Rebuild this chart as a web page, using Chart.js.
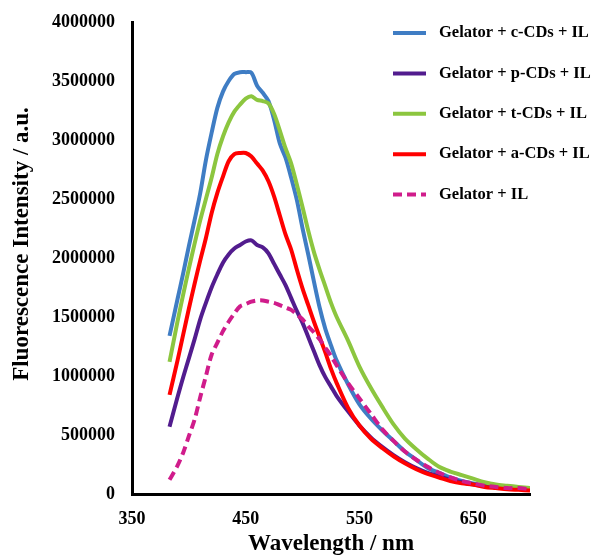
<!DOCTYPE html>
<html>
<head>
<meta charset="utf-8">
<script src="https://cdn.jsdelivr.net/npm/chart.js@4.4.1/dist/chart.umd.min.js"></script>
<style>
html, body { margin: 0; padding: 0; background: #fff; }
#wrap { width: 592px; height: 558px; }
</style>
</head>
<body>
<div id="wrap"><canvas id="graficoCanvas"></canvas></div>
<script>
// dados (comprimento de onda em nm)
const wavelengths = [383, 390, 395, 400, 405, 410, 415, 420, 425, 430, 435, 440, 445, 450, 455, 460, 465, 470, 475, 480,
	485, 490, 495, 500, 505, 510, 515, 520, 525, 530, 540, 550, 560, 570, 580, 590, 600, 610, 620, 630, 640, 650, 660, 670, 680, 690, 700]

const cCDs = [1340000, 1650000, 1870000, 2100000, 2320000, 2550000, 2830000, 3060000, 3270000, 3410000, 3500000, 3560000, 3575000, 3575000, 3570000, 3460000, 3400000, 3330000, 3170000, 2970000,
	2850000, 2680000, 2490000, 2250000, 2030000, 1800000, 1580000, 1400000, 1260000, 1130000, 930000, 760000, 640000, 540000, 450000, 360000, 290000, 220000, 180000, 140000, 110000, 90000, 70000, 60000, 50000, 45000, 40000]

const pCDs = [570000, 820000, 990000, 1150000, 1310000, 1480000, 1620000, 1750000, 1860000, 1960000, 2030000, 2080000, 2110000, 2140000, 2150000, 2110000, 2090000, 2040000, 1950000, 1860000,
	1770000, 1660000, 1550000, 1450000, 1330000, 1210000, 1090000, 990000, 910000, 830000, 700000, 580000, 480000, 400000, 330000, 270000, 220000, 180000, 150000, 120000, 100000, 80000, 70000, 60000, 50000, 45000, 40000]

const tCDs = [1120000, 1460000, 1690000, 1910000, 2120000, 2320000, 2500000, 2680000, 2880000, 3030000, 3150000, 3240000, 3300000, 3350000, 3370000, 3340000, 3330000, 3310000, 3220000, 3080000,
	2930000, 2800000, 2620000, 2430000, 2230000, 2050000, 1900000, 1760000, 1620000, 1500000, 1300000, 1080000, 900000, 740000, 590000, 470000, 380000, 300000, 230000, 190000, 160000, 130000, 100000, 80000, 70000, 60000, 50000]

const aCDs = [840000, 1130000, 1350000, 1570000, 1780000, 1980000, 2170000, 2380000, 2550000, 2690000, 2820000, 2880000, 2890000, 2890000, 2860000, 2800000, 2740000, 2650000, 2520000, 2360000,
	2200000, 2070000, 1900000, 1740000, 1600000, 1460000, 1330000, 1200000, 1060000, 940000, 730000, 580000, 470000, 390000, 320000, 260000, 210000, 170000, 140000, 110000, 90000, 80000, 60000, 50000, 40000, 35000, 30000]

const soIL = [120000, 240000, 350000, 490000, 630000, 820000, 1000000, 1180000, 1280000, 1380000, 1460000, 1530000, 1590000, 1610000, 1630000, 1640000, 1640000, 1630000, 1620000, 1600000,
	1580000, 1560000, 1520000, 1480000, 1420000, 1370000, 1310000, 1240000, 1170000, 1090000, 940000, 810000, 680000, 550000, 450000, 360000, 290000, 230000, 180000, 140000, 110000, 90000, 70000, 60000, 50000, 50000, 40000]

const seriesNames = ['Gelator + c-CDs + IL', 'Gelator + p-CDs + IL', 'Gelator + t-CDs + IL', 'Gelator + a-CDs + IL', 'Gelator + IL']
const seriesColors = ['#3F7DC4', '#521C8E', '#8CC63F', '#FF0000', '#D01C8B']
const xTicks = [350, 450, 550, 650]
const yTitulo = 'Fluorescence Intensity / a.u.'

const fonte = 'Liberation Serif'

function pontos(valores) {
	return valores.map((v, i) => ({ x: wavelengths[i], y: v }))
}

const todasSeries = [cCDs, pCDs, tCDs, aCDs, soIL]

// legenda desenhada a mao, em coluna dentro da area do grafico
// + titulo do eixo y (um pouco acima do centro, como no original)
const legendaLateral = {
	id: 'legendaLateral',
	afterDraw(chart) {
		const ctx = chart.ctx
		ctx.save()
		chart.data.datasets.forEach((ds, i) => {
			const y = 33 + i * 40.4
			ctx.beginPath()
			ctx.strokeStyle = ds.borderColor
			ctx.lineWidth = 4
			ctx.setLineDash(ds.borderDash || [])
			ctx.moveTo(393, y)
			ctx.lineTo(426, y)
			ctx.stroke()
			ctx.setLineDash([])
			ctx.fillStyle = '#000'
			ctx.font = 'bold 16.5px ' + fonte
			ctx.textBaseline = 'middle'
			ctx.fillText(ds.label, 439, y)
		})
		ctx.restore()

		ctx.save()
		ctx.translate(22, 244)
		ctx.rotate(-Math.PI / 2)
		ctx.fillStyle = '#000'
		ctx.font = 'bold 23px ' + fonte
		ctx.textAlign = 'center'
		ctx.textBaseline = 'middle'
		ctx.fillText(yTitulo, 0, 0)
		ctx.restore()
	}
}

const ctx = document.getElementById('graficoCanvas').getContext('2d')

const grafico = new Chart(ctx, {
	type: 'line',
	data: {
		datasets: todasSeries.map((serie, i) => ({
			label: seriesNames[i],
			data: pontos(serie),
			borderColor: seriesColors[i],
			backgroundColor: seriesColors[i],
			borderWidth: 4,
			borderDash: i === 4 ? [9, 5] : [],
			pointRadius: 0,
			tension: 0.3,
			fill: false,
			order: 5 - i
		}))
	},
	options: {
		responsive: true,
		maintainAspectRatio: false,
		animation: false,
		devicePixelRatio: 1,
		layout: {
			padding: { left: 6, right: 62, top: 22, bottom: 0 }
		},
		scales: {
			x: {
				type: 'linear',
				min: 350,
				max: 700,
				afterBuildTicks: (s) => { s.ticks = xTicks.map(v => ({ value: v })) },
				afterFit: (s) => { s.height = 64 },
				grid: { display: false },
				border: { display: true, color: '#000', width: 3 },
				ticks: {
					color: '#000',
					padding: 7,
					maxRotation: 0,
					font: { family: fonte, size: 18, weight: 'bold' }
				},
				title: {
					display: true,
					text: 'Wavelength / nm',
					color: '#000',
					padding: { top: 0, bottom: 0 },
					font: { family: fonte, size: 23, weight: 'bold' }
				}
			},
			y: {
				min: 0,
				max: 4000000,
				afterFit: (s) => { s.width = 126 },
				grid: { display: false },
				border: { display: true, color: '#000', width: 3 },
				ticks: {
					stepSize: 500000,
					color: '#000',
					padding: 9,
					callback: (v) => String(v),
					font: { family: fonte, size: 18, weight: 'bold' }
				}
			}
		},
		plugins: {
			legend: { display: false },
			tooltip: { enabled: false }
		}
	},
	plugins: [legendaLateral]
})
</script>
</body>
</html>
